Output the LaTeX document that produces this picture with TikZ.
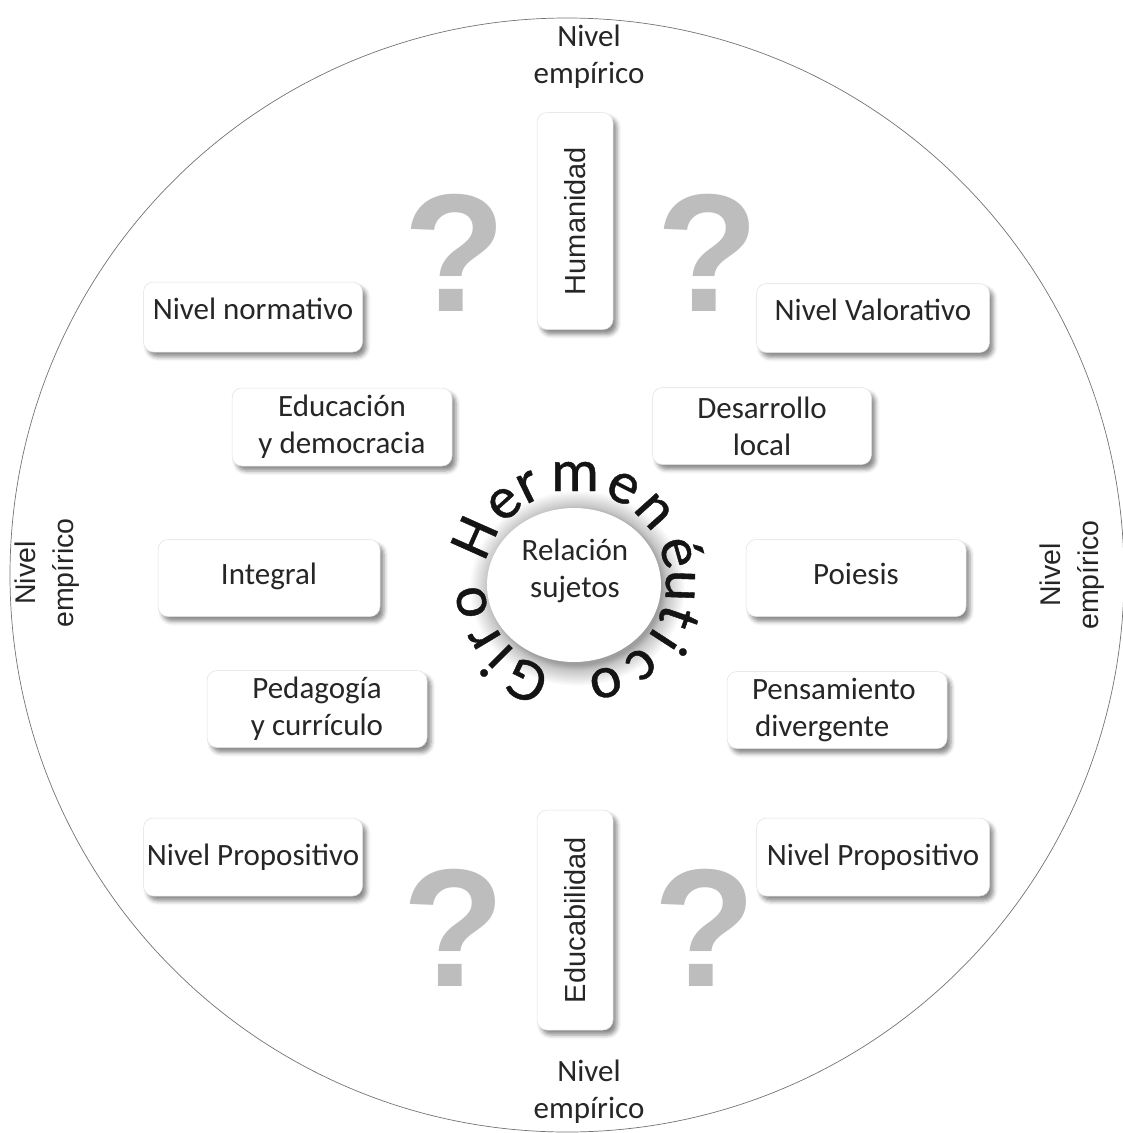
\documentclass[tikz,border=0pt]{standalone}
\usepackage{fontspec}
\setmainfont{Carlito}
\newfontfamily\arialf{Liberation Sans}
\newfontfamily\ringfont{Carlito}[FakeBold=0.7]
\usetikzlibrary{shadows.blur,calc,shapes.geometric}

% soft grey halo round the central disc (path edge sits at 25bp)
\pgfdeclareradialshading{haloshade}{\pgfpoint{0bp}{0bp}}{%
  color(0bp)=(black!38); color(19.5bp)=(black!38); color(21bp)=(black!22);
  color(25bp)=(white); color(50bp)=(white)}

\begin{document}
\begin{tikzpicture}[x=1pt,y=-1pt,
  txt/.style={font=\fontsize{31}{37}\selectfont, text=black!85, align=center},
  card/.style={txt, rounded corners=10pt, fill=white, draw=black!12, line width=0.5pt,
    inner sep=0pt,
    blur shadow={shadow xshift=4pt, shadow yshift=-5pt, shadow blur radius=4pt,
                 shadow opacity=45}},
  vcard/.style={card, font=\arialf\fontsize{29}{35}\selectfont},
  raised/.style={text depth=16pt},
  lvl/.style={txt},
  vlvl/.style={font=\arialf\fontsize{28.5}{38}\selectfont, text=black!85,
    align=center, rotate=90},
  qmark/.style={font=\arialf\bfseries\fontsize{168}{168}\selectfont, text=black!26,
    inner sep=0pt},
  ring/.style={font=\ringfont\fontsize{60}{60}\selectfont, text=black!92, anchor=base,
    inner sep=0pt}
]
\useasboundingbox (0,0) rectangle (1123,1133);
\clip (0,0) rectangle (1123,1133);

% outer frame
\node[draw=black!55, line width=0.7pt, circle, minimum size=1114pt, inner sep=0pt]
  (outer) at (567,575) {};

% question marks
\node[qmark] (qtl) at (455,253) {?};
\node[qmark] (qtr) at (708,253) {?};
\node[qmark] (qbl) at (454,928) {?};
\node[qmark] (qbr) at (705,928) {?};

% cards
\node[card, raised, minimum width=219pt, minimum height=70pt] (norm) at (253,317) {Nivel normativo};
\node[card, raised, minimum width=233pt, minimum height=69pt] (valor) at (873,318) {Nivel Valorativo};
\node[vcard, minimum width=76pt, minimum height=217pt] (hum) at (575,221) {\rotatebox{90}{Humanidad}};
\node[card, minimum width=220pt, minimum height=78pt] (edu) at (342,427) {Educación\\y democracia};
\node[card, minimum width=219pt, minimum height=77pt] (des) at (762,426) {Desarrollo\\local};
\node[card, text depth=8pt, minimum width=222pt, minimum height=77pt] (int) at (269,578) {Integral};
\node[card, text depth=8pt, minimum width=220pt, minimum height=77pt] (poi) at (856,578) {Poiesis};
\node[card, minimum width=220pt, minimum height=77pt] (ped) at (317,709) {Pedagogía\\y currículo};
\node[card, minimum width=220pt, minimum height=77pt, align=left, text width=170pt]
  (pen) at (837,710) {Pensamiento\\\hspace*{3pt}divergente};
\node[card, minimum width=219pt, minimum height=78pt] (propl) at (253,857) {Nivel Propositivo};
\node[card, minimum width=233pt, minimum height=78pt] (propr) at (873,857) {Nivel Propositivo};
\node[vcard, minimum width=76pt, minimum height=220pt] (educ) at (575,920) {\rotatebox{90}{Educabilidad}};

% central disc with halo
\shade[shading=haloshade] (577,588) ellipse (108pt and 98pt);
\node[ellipse, fill=white, minimum width=174pt, minimum height=154pt, inner sep=0pt]
  (disc) at (574,585) {};
\node[txt] (rel) at (575,571) {Relación\\sujetos};

% curved title round the disc
\coordinate (rc) at (575,582);
\foreach \ch/\ang [count=\k] in {G/244, i/225, r/211, o/191, H/156, e/132, r/116, m/90,
    e/63, n/42, é/16, u/-2, t/-19, i/-33, c/-51, o/-73}
  \node[ring, rotate=\ang-90] (ch\k) at ($(rc)+(\ang:91pt)$) {\ch};

% level labels round the frame
\node[lvl] (lvtop) at (589,57) {Nivel\\empírico};
\node[lvl] (lvbot) at (589,1092) {Nivel\\empírico};
\node[vlvl] (lvleft) at (47,573) {Nivel\\empírico};
\node[vlvl] (lvright) at (1072,575) {Nivel\\empírico};
\end{tikzpicture}
\end{document}
